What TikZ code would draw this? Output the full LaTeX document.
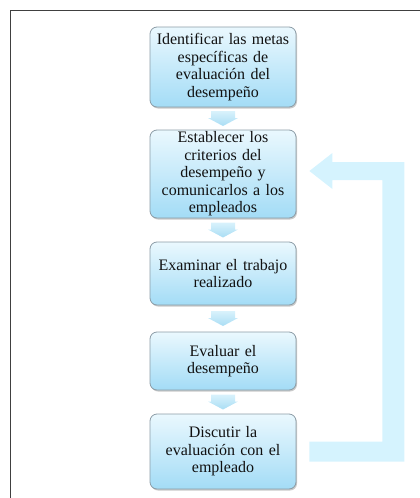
\documentclass[tikz,border=0pt]{standalone}
\usepackage{fontspec}
\setmainfont{Liberation Serif}
\usetikzlibrary{calc,shadows}
\definecolor{boxtop}{HTML}{EAF8FE}
\definecolor{boxbot}{HTML}{A3DCF6}
\definecolor{boxline}{HTML}{8C9CA6}
\definecolor{fbcol}{HTML}{D5F3FE}
\definecolor{arrtop}{HTML}{D9F2FC}
\definecolor{arrbot}{HTML}{A9DDF4}
\definecolor{txt}{HTML}{111111}
\tikzset{
  stepbox/.style={draw=boxline, line width=0.8pt, rounded corners=7pt,
    top color=boxtop, bottom color=boxbot, minimum width=146pt,
    text width=142pt, align=center, text=txt,
    font=\fontsize{16}{17.5}\selectfont, inner sep=0pt,
    drop shadow={shadow xshift=1pt, shadow yshift=-1.5pt, opacity=0.35, fill=black!60}},
  downarr/.pic={\path[top color=arrtop, bottom color=arrbot]
    (-12,-7.5) -- (12,-7.5) -- (12,-0.5) -- (15,-0.5) -- (0,7.5) -- (-15,-0.5) -- (-12,-0.5) -- cycle;},
  fbarrow/.style={fill=fbcol, draw=none},
  frame/.style={draw=black!75, line width=1pt}
}
\begin{document}
\begin{tikzpicture}[x=1pt,y=-1pt]
\useasboundingbox (0,0) rectangle (420,498);
\draw[frame] (10.5,498) -- (10.5,10.5) -- (420,10.5);

\node[stepbox, minimum height=80pt] (a) at (223,67) {Identificar las metas\\específicas de\\evaluación del\\desempeño};
\node[stepbox, minimum height=88pt] (b) at (223,174) {Establecer los\\criterios del\\desempeño y\\comunicarlos a los\\empleados};
\node[stepbox, minimum height=63pt] (c) at (223,273.5) {Examinar el trabajo\\realizado};
\node[stepbox, minimum height=58pt] (d) at (223,361) {Evaluar el\\desempeño};
\node[stepbox, minimum height=75pt] (e) at (223,451.5) {Discutir la\\evaluación con el\\empleado};

\pic at ($(a.south)!0.5!(b.north)$) {downarr};
\pic at ($(b.south)!0.5!(c.north)$) {downarr};
\pic at ($(c.south)!0.5!(d.north)$) {downarr};
\pic at ($(d.south)!0.5!(e.north)$) {downarr};

\coordinate (s) at ([xshift=13pt]e.east);
\coordinate (t) at ([xshift=13pt,yshift=3pt]b.east);
\path[fbarrow] ($(s)+(0,-10)$) -- ($(s)+(73,-10)$) -- ($(t)+(73,9)$) -- ($(t)+(23,9)$)
  -- ($(t)+(23,18)$) -- (t) -- ($(t)+(23,-18)$) -- ($(t)+(23,-9)$) -- ($(t)+(95,-9)$)
  -- ($(s)+(95,10)$) -- ($(s)+(0,10)$) -- cycle;
\end{tikzpicture}
\end{document}
